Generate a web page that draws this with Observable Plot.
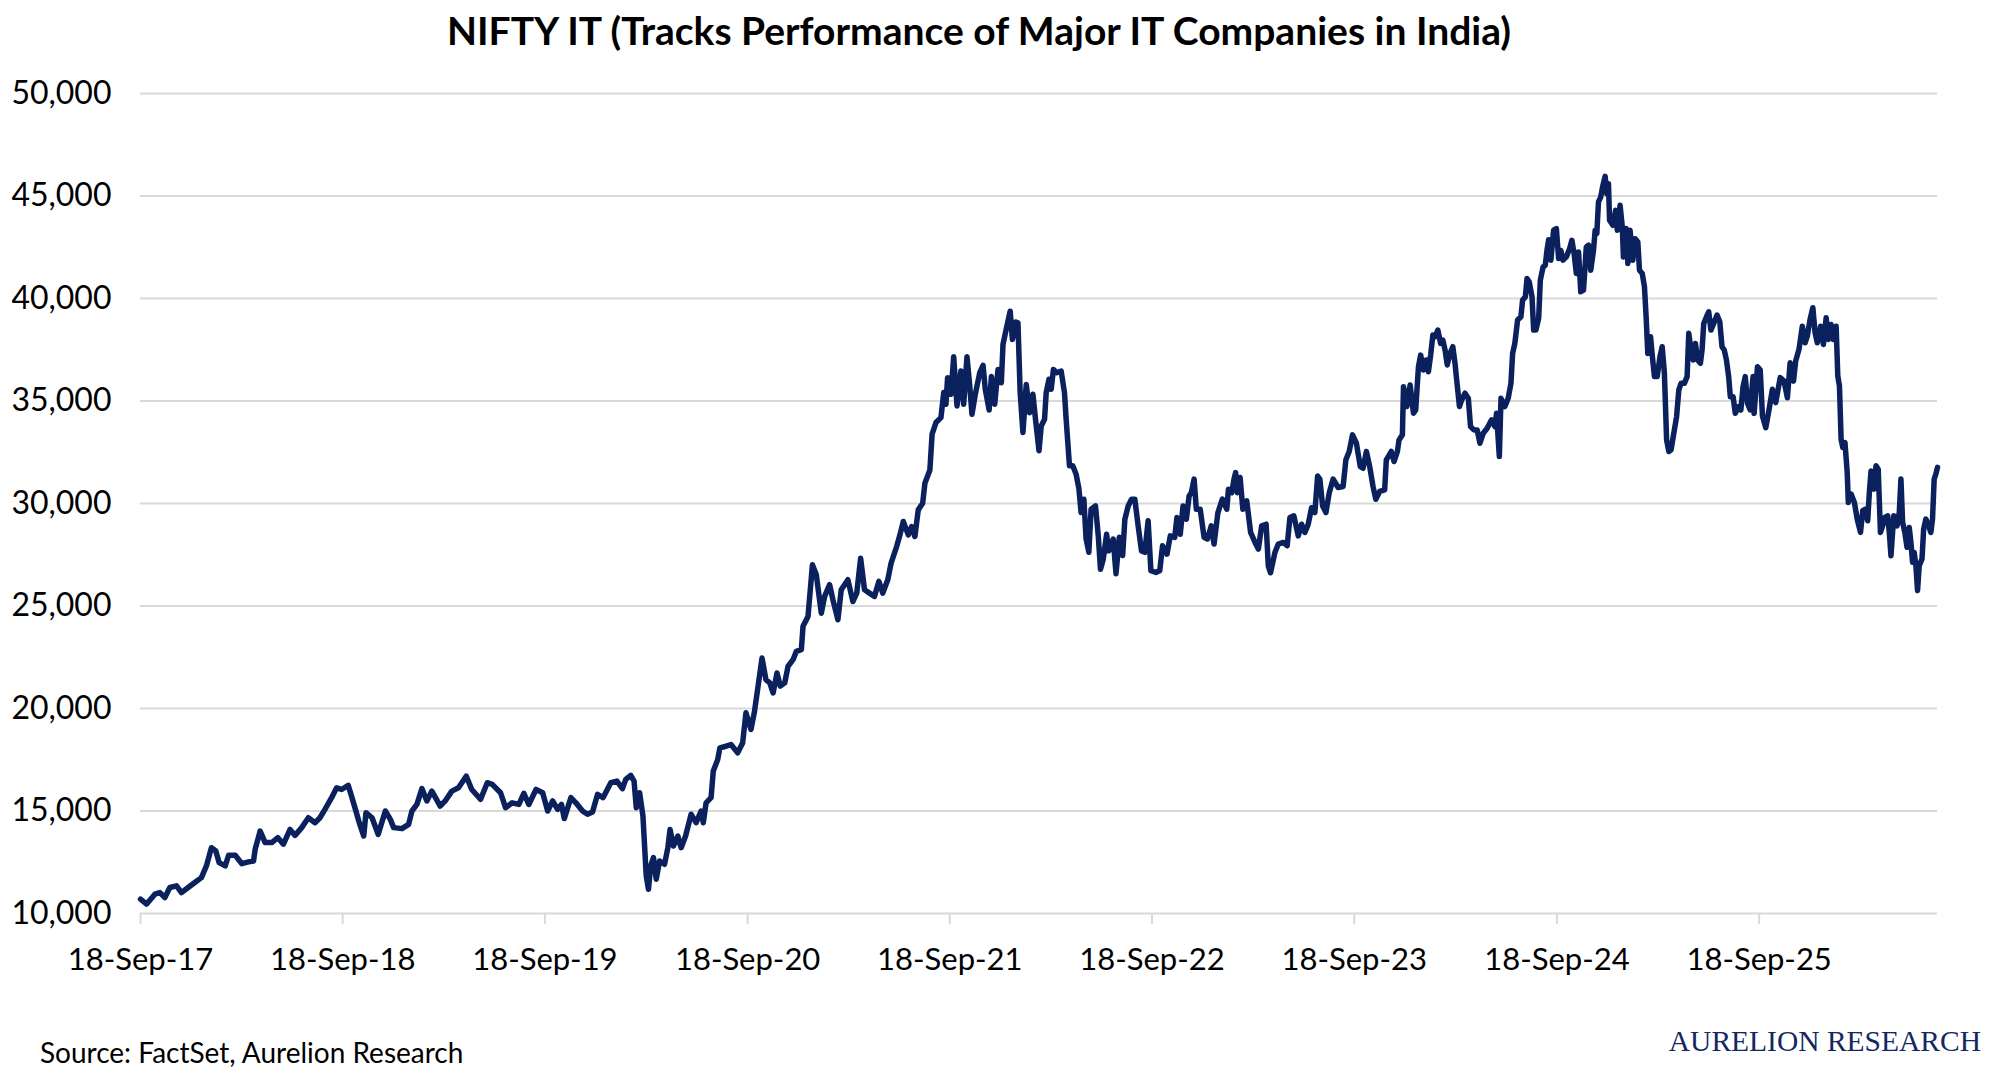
<!DOCTYPE html>
<html><head><meta charset="utf-8">
<script src="https://cdn.jsdelivr.net/npm/d3@7"></script>
<script src="https://cdn.jsdelivr.net/npm/@observablehq/plot@0.6"></script>
<style>
html,body{margin:0;padding:0;background:#fff;}
#wrap{position:relative;width:1990px;height:1078px;overflow:hidden;font-family:Lato,"Open Sans",sans-serif;color:#000;}
#title{position:absolute;left:0;top:11px;width:1958px;text-align:center;font-weight:700;font-size:39px;line-height:1;white-space:nowrap;}
#chart{position:absolute;left:0;top:66px;}
#source{position:absolute;left:40px;top:1038px;font-size:28px;line-height:1;white-space:nowrap;}
#brand{position:absolute;right:9px;top:1027px;font-family:"Liberation Serif","DejaVu Serif",serif;font-size:29.5px;line-height:1;color:#14285f;white-space:nowrap;}
</style></head>
<body>
<div id="wrap">
<div id="title">NIFTY IT (Tracks Performance of Major IT Companies in India)</div>
<div id="chart"></div>
<div id="source">Source: FactSet, Aurelion Research</div>
<div id="brand">AURELION RESEARCH</div>
</div>
<script>
const dates = [
"2017-09-18","2017-09-29","2017-10-14","2017-10-23","2017-11-01","2017-11-10","2017-11-22","2017-12-01","2017-12-13","2017-12-25",
"2018-01-06","2018-01-15","2018-01-24","2018-02-01","2018-02-07","2018-02-18","2018-02-24","2018-03-08","2018-03-20","2018-04-01",
"2018-04-10","2018-04-13","2018-04-22","2018-05-01","2018-05-13","2018-05-24","2018-06-03","2018-06-15","2018-06-24","2018-07-06",
"2018-07-18","2018-07-30","2018-08-08","2018-08-17","2018-08-29","2018-09-07","2018-09-16","2018-09-28","2018-10-03","2018-10-11",
"2018-10-17","2018-10-26","2018-10-30","2018-11-10","2018-11-21","2018-12-04","2018-12-13","2018-12-19","2019-01-03","2019-01-15",
"2019-01-21","2019-01-30","2019-02-08","2019-02-17","2019-02-26","2019-03-13","2019-03-22","2019-04-03","2019-04-15","2019-04-29",
"2019-05-09","2019-05-25","2019-06-06","2019-06-15","2019-06-30","2019-07-09","2019-07-21","2019-08-02","2019-08-11","2019-08-20",
"2019-09-02","2019-09-14","2019-09-23","2019-10-02","2019-10-11","2019-10-18","2019-10-23","2019-11-04","2019-11-13","2019-11-25",
"2019-12-04","2019-12-13","2019-12-22","2020-01-01","2020-01-15","2020-01-26","2020-02-05","2020-02-11","2020-02-20","2020-02-26",
"2020-03-01","2020-03-07","2020-03-13","2020-03-19","2020-03-23","2020-03-27","2020-04-01","2020-04-06","2020-04-12","2020-04-21",
"2020-04-27","2020-05-01","2020-05-07","2020-05-15","2020-05-21","2020-05-29","2020-06-08","2020-06-17","2020-06-26","2020-06-30",
"2020-07-05","2020-07-14","2020-07-18","2020-07-26","2020-07-30","2020-08-10","2020-08-19","2020-08-31","2020-09-09","2020-09-15",
"2020-09-24","2020-09-30","2020-10-06","2020-10-14","2020-10-21","2020-10-28","2020-11-03","2020-11-10","2020-11-16","2020-11-24",
"2020-11-30","2020-12-09","2020-12-15","2020-12-24","2020-12-27","2021-01-05","2021-01-13","2021-01-20","2021-01-29","2021-02-04",
"2021-02-13","2021-02-19","2021-02-28","2021-03-06","2021-03-18","2021-03-27","2021-04-03","2021-04-10","2021-04-17","2021-04-26",
"2021-05-05","2021-05-13","2021-05-20","2021-05-29","2021-06-04","2021-06-14","2021-06-20","2021-06-26","2021-07-05","2021-07-11",
"2021-07-17","2021-07-23","2021-07-31","2021-08-04","2021-08-13","2021-08-17","2021-08-24","2021-09-02","2021-09-07","2021-09-11",
"2021-09-14","2021-09-20","2021-09-25","2021-10-01","2021-10-08","2021-10-13","2021-10-19","2021-10-24","2021-10-28","2021-11-03",
"2021-11-11","2021-11-17","2021-11-21","2021-11-28","2021-12-02","2021-12-08","2021-12-14","2021-12-20","2021-12-23","2021-12-30",
"2022-01-05","2022-01-09","2022-01-15","2022-01-19","2022-01-23","2022-01-28","2022-02-03","2022-02-09","2022-02-15","2022-02-20",
"2022-02-26","2022-03-02","2022-03-08","2022-03-11","2022-03-16","2022-03-20","2022-03-24","2022-03-30","2022-04-07","2022-04-13",
"2022-04-16","2022-04-22","2022-04-28","2022-05-04","2022-05-09","2022-05-13","2022-05-18","2022-05-22","2022-05-27","2022-05-31",
"2022-06-08","2022-06-13","2022-06-17","2022-06-22","2022-06-28","2022-07-02","2022-07-10","2022-07-15","2022-07-21","2022-07-27",
"2022-07-31","2022-08-06","2022-08-12","2022-08-18","2022-08-24","2022-08-30","2022-09-05","2022-09-11","2022-09-16","2022-09-25",
"2022-10-02","2022-10-07","2022-10-15","2022-10-21","2022-10-29","2022-11-02","2022-11-08","2022-11-13","2022-11-19","2022-11-24",
"2022-11-28","2022-12-03","2022-12-07","2022-12-14","2022-12-21","2022-12-27","2023-01-03","2023-01-08","2023-01-15","2023-01-23",
"2023-01-31","2023-02-03","2023-02-09","2023-02-13","2023-02-16","2023-02-19","2023-02-24","2023-03-01","2023-03-08","2023-03-15",
"2023-03-23","2023-03-29","2023-04-04","2023-04-12","2023-04-16","2023-04-20","2023-04-28","2023-05-04","2023-05-13","2023-05-20",
"2023-05-25","2023-06-01","2023-06-09","2023-06-15","2023-06-21","2023-06-27","2023-07-03","2023-07-09","2023-07-14","2023-07-18",
"2023-07-23","2023-07-29","2023-08-04","2023-08-11","2023-08-20","2023-08-29","2023-09-03","2023-09-09","2023-09-15","2023-09-22",
"2023-09-29","2023-10-04","2023-10-10","2023-10-16","2023-10-22","2023-10-27","2023-11-03","2023-11-12","2023-11-15","2023-11-24",
"2023-11-29","2023-12-05","2023-12-08","2023-12-14","2023-12-16","2023-12-22","2023-12-28","2024-01-03","2024-01-07","2024-01-12",
"2024-01-16","2024-01-21","2024-01-26","2024-01-30","2024-02-03","2024-02-07","2024-02-11","2024-02-16","2024-02-21","2024-02-25",
"2024-02-29","2024-03-04","2024-03-09","2024-03-14","2024-03-18","2024-03-21","2024-03-26","2024-03-30","2024-04-05","2024-04-11",
"2024-04-15","2024-04-21","2024-04-27","2024-05-02","2024-05-08","2024-05-15","2024-05-23","2024-05-29","2024-06-01","2024-06-06",
"2024-06-09","2024-06-16","2024-06-22","2024-06-27","2024-06-30","2024-07-04","2024-07-09","2024-07-15","2024-07-18","2024-07-23",
"2024-07-26","2024-07-30","2024-08-04","2024-08-07","2024-08-11","2024-08-16","2024-08-19","2024-08-24","2024-08-28","2024-08-31",
"2024-09-03","2024-09-07","2024-09-12","2024-09-17","2024-09-21","2024-09-25","2024-09-29","2024-10-05","2024-10-11","2024-10-15",
"2024-10-19","2024-10-23","2024-10-27","2024-10-31","2024-11-05","2024-11-10","2024-11-14","2024-11-18","2024-11-23","2024-11-26",
"2024-11-29","2024-12-02","2024-12-06","2024-12-10","2024-12-14","2024-12-17","2024-12-20","2024-12-22","2024-12-28","2025-01-02",
"2025-01-05","2025-01-10","2025-01-14","2025-01-16","2025-01-21","2025-01-24","2025-01-28","2025-02-02","2025-02-06","2025-02-11",
"2025-02-14","2025-02-19","2025-02-23","2025-02-26","2025-03-01","2025-03-06","2025-03-09","2025-03-13","2025-03-18","2025-03-23",
"2025-03-27","2025-03-31","2025-04-04","2025-04-08","2025-04-12","2025-04-17","2025-04-22","2025-04-26","2025-04-30","2025-05-06",
"2025-05-11","2025-05-14","2025-05-18","2025-05-22","2025-05-26","2025-05-30","2025-06-04","2025-06-07","2025-06-10","2025-06-15",
"2025-06-19","2025-06-23","2025-06-28","2025-07-04","2025-07-09","2025-07-13","2025-07-17","2025-07-21","2025-07-25","2025-07-28",
"2025-08-02","2025-08-06","2025-08-12","2025-08-16","2025-08-20","2025-08-24","2025-08-28","2025-09-02","2025-09-07","2025-09-09",
"2025-09-15","2025-09-20","2025-09-24","2025-09-30","2025-10-06","2025-10-12","2025-10-18","2025-10-26","2025-11-02","2025-11-08",
"2025-11-13","2025-11-19","2025-11-23","2025-11-29","2025-12-05","2025-12-10","2025-12-14","2025-12-19","2025-12-24","2025-12-28",
"2026-01-01","2026-01-07","2026-01-12","2026-01-17","2026-01-21","2026-01-26","2026-01-30","2026-02-04","2026-02-07","2026-02-10",
"2026-02-13","2026-02-16","2026-02-20","2026-02-24","2026-02-26","2026-03-03","2026-03-09","2026-03-14","2026-03-20","2026-03-24",
"2026-03-29","2026-04-02","2026-04-05","2026-04-08","2026-04-13","2026-04-17","2026-04-21","2026-04-25","2026-04-29","2026-05-03",
"2026-05-08","2026-05-11","2026-05-14","2026-05-19","2026-05-25","2026-05-29","2026-06-01","2026-06-04","2026-06-08","2026-06-12",
"2026-06-16","2026-06-19","2026-06-22","2026-06-25","2026-06-28","2026-07-01","2026-07-04","2026-07-09","2026-07-12","2026-07-16",
"2026-07-21","2026-07-25","2026-07-28","2026-07-31","2026-08-03","2026-08-06"
];
const values = [
10700,10460,10940,11020,10780,11270,11350,11020,11270,11510,
11750,12320,13210,13050,12480,12320,12840,12840,12430,12520,
12560,13130,14020,13460,13460,13700,13380,14100,13810,14190,
14670,14430,14670,15080,15650,16130,16050,16250,15810,15080,
14510,13780,14920,14670,13860,15000,14590,14190,14140,14350,
15000,15320,16090,15490,15970,15240,15490,15970,16130,16700,
16050,15570,16380,16300,15890,15160,15400,15320,15860,15320,
16050,15890,15000,15490,15080,15320,14630,15650,15400,15000,
14840,14950,15810,15650,16380,16460,16090,16540,16740,16460,
15160,15890,14760,11830,11180,12320,12730,11670,12560,12400,
13210,14100,13290,13780,13210,13780,14840,14430,15000,14430,
15400,15650,16950,17510,18080,18160,18240,17840,18320,19790,
18980,19790,20920,22460,21410,21250,20760,21730,21090,21250,
22060,22380,22790,22870,24010,24490,27010,26520,24650,25470,
26040,25300,24330,25790,26280,25220,25630,27330,25790,25630,
25470,26200,25630,26280,27090,27900,28470,29120,28470,28870,
28390,29690,30010,30990,31630,33380,33950,34190,35410,34840,
36140,35330,37160,34760,36460,34840,37160,35730,34350,35330,
36380,36740,35570,34560,36190,34840,36540,35890,37760,38650,
39380,38000,38850,38810,35410,33460,35810,34430,35330,34030,
32570,33780,34110,35410,36060,35570,36540,36380,36460,35410,
34110,31840,31840,31430,30730,29560,30210,28270,27620,29720,
29880,28420,26790,27280,28500,27690,28270,26570,28350,27460,
29230,29880,30210,30210,28910,27690,27620,29160,26720,26640,
26720,27940,27530,28420,28350,29320,28500,29880,29230,30370,
30530,31190,29720,29720,28350,28270,28910,28020,29560,30210,
29720,30700,30530,31190,31510,30530,31270,29720,30130,28590,
28100,27780,28910,28990,26950,26620,27620,28020,28100,27940,
29320,29400,28420,28990,28590,28990,29790,29560,31340,31190,
29880,29560,30530,31190,30780,30830,32130,32540,33350,32940,
31800,31720,32540,31800,30830,30210,30590,30670,32130,32540,
32050,32540,33100,33350,35700,34730,35780,34400,34560,36670,
37240,36510,37000,36430,37240,38220,38130,38460,37810,37970,
37490,36760,37320,37650,36840,36030,34730,35050,35380,35130,
33750,33590,33590,32940,33430,33670,34080,33750,34400,32290,
35130,34730,35130,35860,37320,37810,38950,39110,39920,40080,
40980,40810,40080,38460,38460,39030,40890,41540,41620,42350,
42870,41870,43330,43410,41950,42350,41870,42030,42440,42840,
42190,41220,42270,40330,40410,42520,42600,41380,42350,43330,
43170,44710,44950,45520,45960,45110,45600,43820,43570,44300,
43330,44550,43490,42030,43410,41710,43330,41870,42920,42760,
41380,41220,40570,39110,37320,38130,37240,36190,36190,37160,
37650,36350,33100,32540,32620,33430,34240,35540,35860,35860,
36190,38300,37490,37000,37810,37000,36840,37490,38780,39110,
39350,38460,38780,39190,38860,37650,37490,37000,36190,35210,
35210,34400,34730,34560,35700,36190,34890,34560,36190,34400,
36670,36510,34270,33700,34600,35570,34920,36140,35970,35160,
36870,35970,36950,37520,38650,37840,38170,38980,39550,38330,
37840,38650,37760,39060,38000,38730,38000,38650,36220,35730,
33130,32730,32970,31510,30050,30460,30050,29240,28590,29650,
29730,29160,30540,31590,30700,31840,31670,28590,28910,29320,
29400,28590,27450,29400,28910,29560,31190,29080,28590,27860,
28830,28100,27130,27610,26970,25750,26970,27290,28750,29240,
28910,28590,29240,31190,31430,31760
];
const yTicks = [10000, 15000, 20000, 25000, 30000, 35000, 40000, 45000, 50000];
const xTickDates = ["2017-09-18","2018-09-18","2019-09-18","2020-09-18","2021-09-18","2022-09-18","2023-09-18","2024-09-18","2025-09-18"];
const xDomain = ["2017-09-18", "2026-08-06"];

const n = Math.min(dates.length, values.length);
if (dates.length !== values.length) console.warn("length mismatch", dates.length, values.length);
const rows = d3.range(n).map(i => ({date: new Date(dates[i] + "T00:00:00Z"), value: values[i]}));
const xTicks = xTickDates.map(d => new Date(d + "T00:00:00Z"));

const chart = Plot.plot({
  width: 1990,
  height: 940,
  marginLeft: 140,
  marginRight: 53,
  marginTop: 27,
  marginBottom: 93,
  style: {fontFamily: "Lato, 'Open Sans', sans-serif", color: "#000", background: "#fff", overflow: "visible"},
  x: {type: "utc", domain: xDomain.map(d => new Date(d + "T00:00:00Z"))},
  y: {domain: [10000, 50000]},
  marks: [
    Plot.gridY(yTicks, {stroke: "#d9d9d9", strokeOpacity: 1, strokeWidth: 2}),
    Plot.axisY(yTicks, {tickSize: 0, tickPadding: 29, tickFormat: d3.format(","), fontSize: 32, label: null, fill: "#000"}),
    Plot.axisX(xTicks, {tickSize: 11, tickPadding: 23, stroke: "#d9d9d9", strokeWidth: 2, strokeOpacity: 1, tickFormat: d3.utcFormat("%d-%b-%y"), fontSize: 31, label: null, fill: "#000"}),
    Plot.line(rows, {x: "date", y: "value", stroke: "#0a215e", strokeWidth: 5.5, strokeLinejoin: "round", strokeLinecap: "round"})
  ]
});
document.getElementById("chart").appendChild(chart);
</script>
</body></html>
